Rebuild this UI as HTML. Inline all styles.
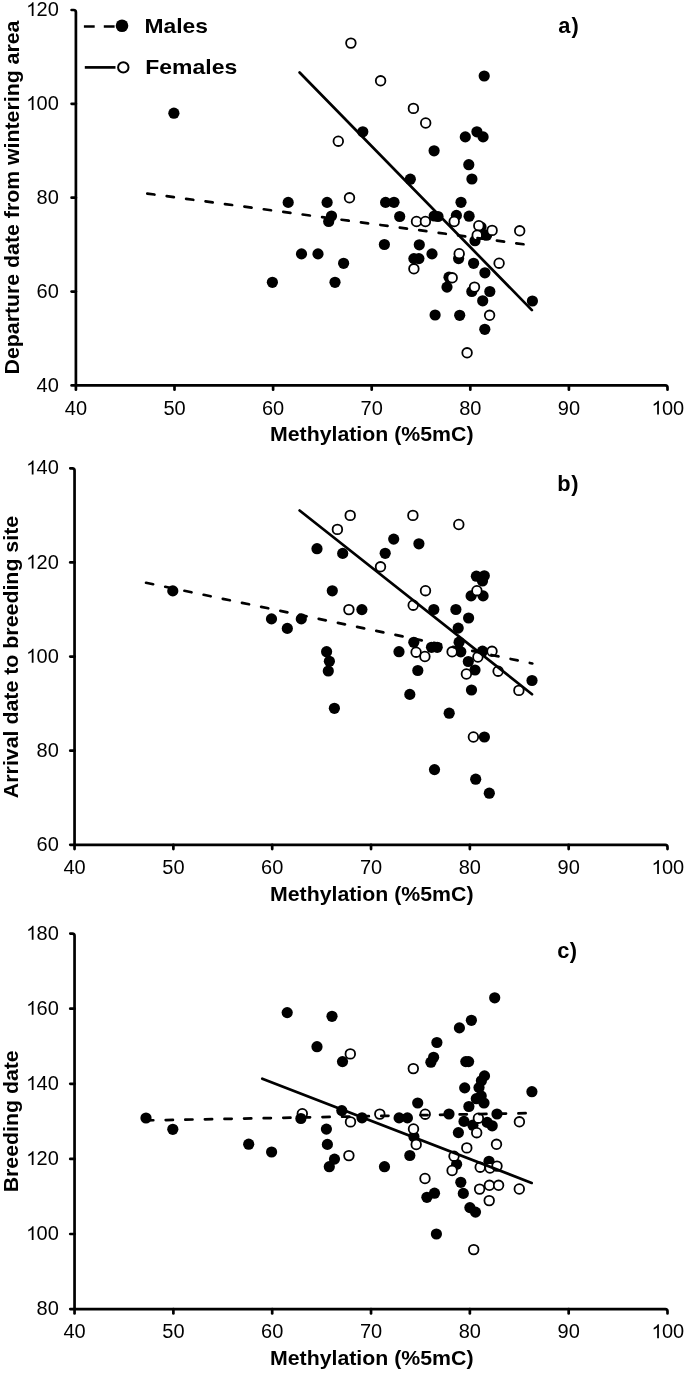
<!DOCTYPE html>
<html><head><meta charset="utf-8"><style>
html,body{margin:0;padding:0;background:#fff;width:685px;height:1373px;overflow:hidden}
svg{display:block;filter:grayscale(1)}
text{font-family:"Liberation Sans", sans-serif;fill:#000}
.tk{font-size:20px}
.tt{font-size:20.5px;font-weight:bold}
.lg{font-size:20.5px;font-weight:bold}
.pl{font-size:21.8px;font-weight:bold}
</style></head><body>
<svg width="685" height="1373" viewBox="0 0 685 1373">
<rect width="685" height="1373" fill="#fff"/>
<path d="M71.60 10.0H73.70Q75.9 10.0 75.9 12.20V385.4H665.30Q667.5 385.4 667.5 387.60V389.70" fill="none" stroke="#000" stroke-width="2.7" stroke-linejoin="round" stroke-linecap="round"/>
<path transform="translate(25.43,16.10) scale(0.009766,-0.009766)" d="M828 0H648V1098Q583 1038 477.5 979T288 890V1057Q439 1125 552 1221T712 1419H828Z"/><text x="36.55" y="16.10" class="tk">2</text><text x="47.68" y="16.10" class="tk">0</text>
<line x1="71.60" y1="103.85" x2="75.9" y2="103.85" stroke="#000" stroke-width="2.7" stroke-linecap="round"/>
<path transform="translate(25.43,109.95) scale(0.009766,-0.009766)" d="M828 0H648V1098Q583 1038 477.5 979T288 890V1057Q439 1125 552 1221T712 1419H828Z"/><text x="36.55" y="109.95" class="tk">0</text><text x="47.68" y="109.95" class="tk">0</text>
<line x1="71.60" y1="197.70" x2="75.9" y2="197.70" stroke="#000" stroke-width="2.7" stroke-linecap="round"/>
<text x="36.55" y="203.80" class="tk">8</text><text x="47.68" y="203.80" class="tk">0</text>
<line x1="71.60" y1="291.55" x2="75.9" y2="291.55" stroke="#000" stroke-width="2.7" stroke-linecap="round"/>
<text x="36.55" y="297.65" class="tk">6</text><text x="47.68" y="297.65" class="tk">0</text>
<line x1="71.60" y1="385.40" x2="75.9" y2="385.40" stroke="#000" stroke-width="2.7" stroke-linecap="round"/>
<text x="36.55" y="391.50" class="tk">4</text><text x="47.68" y="391.50" class="tk">0</text>
<line x1="75.90" y1="385.4" x2="75.90" y2="389.70" stroke="#000" stroke-width="2.7" stroke-linecap="round"/>
<text x="64.78" y="414.50" class="tk">4</text><text x="75.90" y="414.50" class="tk">0</text>
<line x1="174.50" y1="385.4" x2="174.50" y2="389.70" stroke="#000" stroke-width="2.7" stroke-linecap="round"/>
<text x="163.38" y="414.50" class="tk">5</text><text x="174.50" y="414.50" class="tk">0</text>
<line x1="273.10" y1="385.4" x2="273.10" y2="389.70" stroke="#000" stroke-width="2.7" stroke-linecap="round"/>
<text x="261.98" y="414.50" class="tk">6</text><text x="273.10" y="414.50" class="tk">0</text>
<line x1="371.70" y1="385.4" x2="371.70" y2="389.70" stroke="#000" stroke-width="2.7" stroke-linecap="round"/>
<text x="360.58" y="414.50" class="tk">7</text><text x="371.70" y="414.50" class="tk">0</text>
<line x1="470.30" y1="385.4" x2="470.30" y2="389.70" stroke="#000" stroke-width="2.7" stroke-linecap="round"/>
<text x="459.18" y="414.50" class="tk">8</text><text x="470.30" y="414.50" class="tk">0</text>
<line x1="568.90" y1="385.4" x2="568.90" y2="389.70" stroke="#000" stroke-width="2.7" stroke-linecap="round"/>
<text x="557.78" y="414.50" class="tk">9</text><text x="568.90" y="414.50" class="tk">0</text>
<path transform="translate(650.82,414.50) scale(0.009766,-0.009766)" d="M828 0H648V1098Q583 1038 477.5 979T288 890V1057Q439 1125 552 1221T712 1419H828Z"/><text x="661.94" y="414.50" class="tk">0</text><text x="673.06" y="414.50" class="tk">0</text>
<text x="270.0" y="441.20" class="tt" textLength="203.5" lengthAdjust="spacingAndGlyphs">Methylation (%5mC)</text>
<text transform="translate(19.3,374.45) rotate(-90)" x="0" y="0" class="tt" textLength="353.9" lengthAdjust="spacingAndGlyphs">Departure date from wintering area</text>
<path d="M70.25 468.3H72.35Q74.55 468.3 74.55 470.50V844.8H665.30Q667.5 844.8 667.5 847.00V849.10" fill="none" stroke="#000" stroke-width="2.7" stroke-linejoin="round" stroke-linecap="round"/>
<path transform="translate(25.43,474.40) scale(0.009766,-0.009766)" d="M828 0H648V1098Q583 1038 477.5 979T288 890V1057Q439 1125 552 1221T712 1419H828Z"/><text x="36.55" y="474.40" class="tk">4</text><text x="47.68" y="474.40" class="tk">0</text>
<line x1="70.25" y1="562.42" x2="74.55" y2="562.42" stroke="#000" stroke-width="2.7" stroke-linecap="round"/>
<path transform="translate(25.43,568.52) scale(0.009766,-0.009766)" d="M828 0H648V1098Q583 1038 477.5 979T288 890V1057Q439 1125 552 1221T712 1419H828Z"/><text x="36.55" y="568.52" class="tk">2</text><text x="47.68" y="568.52" class="tk">0</text>
<line x1="70.25" y1="656.55" x2="74.55" y2="656.55" stroke="#000" stroke-width="2.7" stroke-linecap="round"/>
<path transform="translate(25.43,662.65) scale(0.009766,-0.009766)" d="M828 0H648V1098Q583 1038 477.5 979T288 890V1057Q439 1125 552 1221T712 1419H828Z"/><text x="36.55" y="662.65" class="tk">0</text><text x="47.68" y="662.65" class="tk">0</text>
<line x1="70.25" y1="750.67" x2="74.55" y2="750.67" stroke="#000" stroke-width="2.7" stroke-linecap="round"/>
<text x="36.55" y="756.77" class="tk">8</text><text x="47.68" y="756.77" class="tk">0</text>
<line x1="70.25" y1="844.80" x2="74.55" y2="844.80" stroke="#000" stroke-width="2.7" stroke-linecap="round"/>
<text x="36.55" y="850.90" class="tk">6</text><text x="47.68" y="850.90" class="tk">0</text>
<line x1="74.55" y1="844.8" x2="74.55" y2="849.10" stroke="#000" stroke-width="2.7" stroke-linecap="round"/>
<text x="63.43" y="873.90" class="tk">4</text><text x="74.55" y="873.90" class="tk">0</text>
<line x1="173.38" y1="844.8" x2="173.38" y2="849.10" stroke="#000" stroke-width="2.7" stroke-linecap="round"/>
<text x="162.25" y="873.90" class="tk">5</text><text x="173.38" y="873.90" class="tk">0</text>
<line x1="272.20" y1="844.8" x2="272.20" y2="849.10" stroke="#000" stroke-width="2.7" stroke-linecap="round"/>
<text x="261.08" y="873.90" class="tk">6</text><text x="272.20" y="873.90" class="tk">0</text>
<line x1="371.03" y1="844.8" x2="371.03" y2="849.10" stroke="#000" stroke-width="2.7" stroke-linecap="round"/>
<text x="359.90" y="873.90" class="tk">7</text><text x="371.03" y="873.90" class="tk">0</text>
<line x1="469.85" y1="844.8" x2="469.85" y2="849.10" stroke="#000" stroke-width="2.7" stroke-linecap="round"/>
<text x="458.73" y="873.90" class="tk">8</text><text x="469.85" y="873.90" class="tk">0</text>
<line x1="568.67" y1="844.8" x2="568.67" y2="849.10" stroke="#000" stroke-width="2.7" stroke-linecap="round"/>
<text x="557.55" y="873.90" class="tk">9</text><text x="568.67" y="873.90" class="tk">0</text>
<path transform="translate(650.82,873.90) scale(0.009766,-0.009766)" d="M828 0H648V1098Q583 1038 477.5 979T288 890V1057Q439 1125 552 1221T712 1419H828Z"/><text x="661.94" y="873.90" class="tk">0</text><text x="673.06" y="873.90" class="tk">0</text>
<text x="270.0" y="900.60" class="tt" textLength="203.5" lengthAdjust="spacingAndGlyphs">Methylation (%5mC)</text>
<text transform="translate(18.2,798.15) rotate(-90)" x="0" y="0" class="tt" textLength="282.3" lengthAdjust="spacingAndGlyphs">Arrival date to breeding site</text>
<path d="M70.25 933.6H72.35Q74.55 933.6 74.55 935.80V1309.1H665.30Q667.5 1309.1 667.5 1311.30V1313.40" fill="none" stroke="#000" stroke-width="2.7" stroke-linejoin="round" stroke-linecap="round"/>
<path transform="translate(25.43,939.70) scale(0.009766,-0.009766)" d="M828 0H648V1098Q583 1038 477.5 979T288 890V1057Q439 1125 552 1221T712 1419H828Z"/><text x="36.55" y="939.70" class="tk">8</text><text x="47.68" y="939.70" class="tk">0</text>
<line x1="70.25" y1="1008.70" x2="74.55" y2="1008.70" stroke="#000" stroke-width="2.7" stroke-linecap="round"/>
<path transform="translate(25.43,1014.80) scale(0.009766,-0.009766)" d="M828 0H648V1098Q583 1038 477.5 979T288 890V1057Q439 1125 552 1221T712 1419H828Z"/><text x="36.55" y="1014.80" class="tk">6</text><text x="47.68" y="1014.80" class="tk">0</text>
<line x1="70.25" y1="1083.80" x2="74.55" y2="1083.80" stroke="#000" stroke-width="2.7" stroke-linecap="round"/>
<path transform="translate(25.43,1089.90) scale(0.009766,-0.009766)" d="M828 0H648V1098Q583 1038 477.5 979T288 890V1057Q439 1125 552 1221T712 1419H828Z"/><text x="36.55" y="1089.90" class="tk">4</text><text x="47.68" y="1089.90" class="tk">0</text>
<line x1="70.25" y1="1158.90" x2="74.55" y2="1158.90" stroke="#000" stroke-width="2.7" stroke-linecap="round"/>
<path transform="translate(25.43,1165.00) scale(0.009766,-0.009766)" d="M828 0H648V1098Q583 1038 477.5 979T288 890V1057Q439 1125 552 1221T712 1419H828Z"/><text x="36.55" y="1165.00" class="tk">2</text><text x="47.68" y="1165.00" class="tk">0</text>
<line x1="70.25" y1="1234.00" x2="74.55" y2="1234.00" stroke="#000" stroke-width="2.7" stroke-linecap="round"/>
<path transform="translate(25.43,1240.10) scale(0.009766,-0.009766)" d="M828 0H648V1098Q583 1038 477.5 979T288 890V1057Q439 1125 552 1221T712 1419H828Z"/><text x="36.55" y="1240.10" class="tk">0</text><text x="47.68" y="1240.10" class="tk">0</text>
<line x1="70.25" y1="1309.10" x2="74.55" y2="1309.10" stroke="#000" stroke-width="2.7" stroke-linecap="round"/>
<text x="36.55" y="1315.20" class="tk">8</text><text x="47.68" y="1315.20" class="tk">0</text>
<line x1="74.55" y1="1309.1" x2="74.55" y2="1313.40" stroke="#000" stroke-width="2.7" stroke-linecap="round"/>
<text x="63.43" y="1338.20" class="tk">4</text><text x="74.55" y="1338.20" class="tk">0</text>
<line x1="173.38" y1="1309.1" x2="173.38" y2="1313.40" stroke="#000" stroke-width="2.7" stroke-linecap="round"/>
<text x="162.25" y="1338.20" class="tk">5</text><text x="173.38" y="1338.20" class="tk">0</text>
<line x1="272.20" y1="1309.1" x2="272.20" y2="1313.40" stroke="#000" stroke-width="2.7" stroke-linecap="round"/>
<text x="261.08" y="1338.20" class="tk">6</text><text x="272.20" y="1338.20" class="tk">0</text>
<line x1="371.03" y1="1309.1" x2="371.03" y2="1313.40" stroke="#000" stroke-width="2.7" stroke-linecap="round"/>
<text x="359.90" y="1338.20" class="tk">7</text><text x="371.03" y="1338.20" class="tk">0</text>
<line x1="469.85" y1="1309.1" x2="469.85" y2="1313.40" stroke="#000" stroke-width="2.7" stroke-linecap="round"/>
<text x="458.73" y="1338.20" class="tk">8</text><text x="469.85" y="1338.20" class="tk">0</text>
<line x1="568.67" y1="1309.1" x2="568.67" y2="1313.40" stroke="#000" stroke-width="2.7" stroke-linecap="round"/>
<text x="557.55" y="1338.20" class="tk">9</text><text x="568.67" y="1338.20" class="tk">0</text>
<path transform="translate(650.82,1338.20) scale(0.009766,-0.009766)" d="M828 0H648V1098Q583 1038 477.5 979T288 890V1057Q439 1125 552 1221T712 1419H828Z"/><text x="661.94" y="1338.20" class="tk">0</text><text x="673.06" y="1338.20" class="tk">0</text>
<text x="270.0" y="1364.90" class="tt" textLength="203.5" lengthAdjust="spacingAndGlyphs">Methylation (%5mC)</text>
<text transform="translate(18.2,1192.30) rotate(-90)" x="0" y="0" class="tt" textLength="142.0" lengthAdjust="spacingAndGlyphs">Breeding date</text>
<circle cx="173.9" cy="113.2" r="5.6" fill="#000"/>
<circle cx="362.8" cy="131.8" r="5.6" fill="#000"/>
<circle cx="434.1" cy="150.8" r="5.6" fill="#000"/>
<circle cx="484.2" cy="76.0" r="5.6" fill="#000"/>
<circle cx="465.3" cy="136.9" r="5.6" fill="#000"/>
<circle cx="476.9" cy="131.8" r="5.6" fill="#000"/>
<circle cx="483.1" cy="136.9" r="5.6" fill="#000"/>
<circle cx="468.8" cy="164.7" r="5.6" fill="#000"/>
<circle cx="471.9" cy="179.0" r="5.6" fill="#000"/>
<circle cx="288.2" cy="202.4" r="5.6" fill="#000"/>
<circle cx="327.1" cy="202.4" r="5.6" fill="#000"/>
<circle cx="385.6" cy="202.4" r="5.6" fill="#000"/>
<circle cx="394.0" cy="202.3" r="5.6" fill="#000"/>
<circle cx="331.5" cy="216.0" r="5.6" fill="#000"/>
<circle cx="328.7" cy="221.5" r="5.6" fill="#000"/>
<circle cx="301.5" cy="253.9" r="5.6" fill="#000"/>
<circle cx="318.0" cy="253.9" r="5.6" fill="#000"/>
<circle cx="343.6" cy="263.3" r="5.6" fill="#000"/>
<circle cx="384.4" cy="244.5" r="5.6" fill="#000"/>
<circle cx="272.4" cy="282.3" r="5.6" fill="#000"/>
<circle cx="335.0" cy="282.3" r="5.6" fill="#000"/>
<circle cx="410.3" cy="179.2" r="5.6" fill="#000"/>
<circle cx="399.7" cy="216.5" r="5.6" fill="#000"/>
<circle cx="434.2" cy="216.0" r="5.6" fill="#000"/>
<circle cx="438.0" cy="216.5" r="5.6" fill="#000"/>
<circle cx="419.3" cy="244.8" r="5.6" fill="#000"/>
<circle cx="461.0" cy="202.3" r="5.6" fill="#000"/>
<circle cx="456.4" cy="215.4" r="5.6" fill="#000"/>
<circle cx="469.1" cy="216.2" r="5.6" fill="#000"/>
<circle cx="481.0" cy="227.0" r="5.6" fill="#000"/>
<circle cx="486.6" cy="235.2" r="5.6" fill="#000"/>
<circle cx="475.0" cy="240.7" r="5.6" fill="#000"/>
<circle cx="432.0" cy="253.9" r="5.6" fill="#000"/>
<circle cx="413.9" cy="258.6" r="5.6" fill="#000"/>
<circle cx="418.9" cy="258.6" r="5.6" fill="#000"/>
<circle cx="449.0" cy="277.2" r="5.6" fill="#000"/>
<circle cx="447.0" cy="287.1" r="5.6" fill="#000"/>
<circle cx="435.1" cy="315.0" r="5.6" fill="#000"/>
<circle cx="458.6" cy="258.6" r="5.6" fill="#000"/>
<circle cx="473.6" cy="263.3" r="5.6" fill="#000"/>
<circle cx="484.9" cy="272.8" r="5.6" fill="#000"/>
<circle cx="471.8" cy="291.5" r="5.6" fill="#000"/>
<circle cx="489.8" cy="291.5" r="5.6" fill="#000"/>
<circle cx="482.7" cy="300.8" r="5.6" fill="#000"/>
<circle cx="459.7" cy="315.3" r="5.6" fill="#000"/>
<circle cx="484.8" cy="329.3" r="5.6" fill="#000"/>
<circle cx="532.4" cy="301.0" r="5.6" fill="#000"/>
<circle cx="350.9" cy="43.1" r="4.8" fill="#fff" stroke="#000" stroke-width="1.8"/>
<circle cx="380.6" cy="80.8" r="4.8" fill="#fff" stroke="#000" stroke-width="1.8"/>
<circle cx="413.4" cy="108.4" r="4.8" fill="#fff" stroke="#000" stroke-width="1.8"/>
<circle cx="425.7" cy="123.0" r="4.8" fill="#fff" stroke="#000" stroke-width="1.8"/>
<circle cx="338.3" cy="141.2" r="4.8" fill="#fff" stroke="#000" stroke-width="1.8"/>
<circle cx="349.5" cy="197.8" r="4.8" fill="#fff" stroke="#000" stroke-width="1.8"/>
<circle cx="416.5" cy="221.5" r="4.8" fill="#fff" stroke="#000" stroke-width="1.8"/>
<circle cx="425.4" cy="221.5" r="4.8" fill="#fff" stroke="#000" stroke-width="1.8"/>
<circle cx="454.2" cy="221.5" r="4.8" fill="#fff" stroke="#000" stroke-width="1.8"/>
<circle cx="478.8" cy="225.7" r="4.8" fill="#fff" stroke="#000" stroke-width="1.8"/>
<circle cx="492.1" cy="230.4" r="4.8" fill="#fff" stroke="#000" stroke-width="1.8"/>
<circle cx="477.2" cy="235.2" r="4.8" fill="#fff" stroke="#000" stroke-width="1.8"/>
<circle cx="413.9" cy="268.8" r="4.8" fill="#fff" stroke="#000" stroke-width="1.8"/>
<circle cx="452.2" cy="277.8" r="4.8" fill="#fff" stroke="#000" stroke-width="1.8"/>
<circle cx="459.2" cy="253.7" r="4.8" fill="#fff" stroke="#000" stroke-width="1.8"/>
<circle cx="499.1" cy="263.2" r="4.8" fill="#fff" stroke="#000" stroke-width="1.8"/>
<circle cx="474.5" cy="287.1" r="4.8" fill="#fff" stroke="#000" stroke-width="1.8"/>
<circle cx="489.6" cy="315.3" r="4.8" fill="#fff" stroke="#000" stroke-width="1.8"/>
<circle cx="467.1" cy="352.8" r="4.8" fill="#fff" stroke="#000" stroke-width="1.8"/>
<circle cx="519.7" cy="230.8" r="4.8" fill="#fff" stroke="#000" stroke-width="1.8"/>
<circle cx="172.8" cy="590.9" r="5.6" fill="#000"/>
<circle cx="271.5" cy="618.9" r="5.6" fill="#000"/>
<circle cx="287.3" cy="628.4" r="5.6" fill="#000"/>
<circle cx="301.3" cy="618.9" r="5.6" fill="#000"/>
<circle cx="317.0" cy="548.7" r="5.6" fill="#000"/>
<circle cx="342.7" cy="553.4" r="5.6" fill="#000"/>
<circle cx="385.2" cy="553.3" r="5.6" fill="#000"/>
<circle cx="393.7" cy="539.1" r="5.6" fill="#000"/>
<circle cx="332.3" cy="590.8" r="5.6" fill="#000"/>
<circle cx="361.9" cy="609.6" r="5.6" fill="#000"/>
<circle cx="326.6" cy="651.7" r="5.6" fill="#000"/>
<circle cx="329.4" cy="661.3" r="5.6" fill="#000"/>
<circle cx="328.3" cy="671.0" r="5.6" fill="#000"/>
<circle cx="334.4" cy="708.3" r="5.6" fill="#000"/>
<circle cx="418.9" cy="543.8" r="5.6" fill="#000"/>
<circle cx="433.8" cy="609.5" r="5.6" fill="#000"/>
<circle cx="455.9" cy="609.5" r="5.6" fill="#000"/>
<circle cx="468.6" cy="618.0" r="5.6" fill="#000"/>
<circle cx="476.4" cy="576.2" r="5.6" fill="#000"/>
<circle cx="484.3" cy="575.8" r="5.6" fill="#000"/>
<circle cx="482.5" cy="581.0" r="5.6" fill="#000"/>
<circle cx="471.1" cy="595.9" r="5.6" fill="#000"/>
<circle cx="483.1" cy="595.9" r="5.6" fill="#000"/>
<circle cx="413.8" cy="642.3" r="5.6" fill="#000"/>
<circle cx="399.0" cy="651.7" r="5.6" fill="#000"/>
<circle cx="431.5" cy="647.3" r="5.6" fill="#000"/>
<circle cx="437.2" cy="647.3" r="5.6" fill="#000"/>
<circle cx="417.8" cy="670.5" r="5.6" fill="#000"/>
<circle cx="458.2" cy="628.1" r="5.6" fill="#000"/>
<circle cx="459.1" cy="642.2" r="5.6" fill="#000"/>
<circle cx="460.8" cy="651.8" r="5.6" fill="#000"/>
<circle cx="468.3" cy="661.5" r="5.6" fill="#000"/>
<circle cx="482.5" cy="651.2" r="5.6" fill="#000"/>
<circle cx="475.0" cy="670.0" r="5.6" fill="#000"/>
<circle cx="471.5" cy="690.0" r="5.6" fill="#000"/>
<circle cx="532.0" cy="680.5" r="5.6" fill="#000"/>
<circle cx="409.8" cy="694.4" r="5.6" fill="#000"/>
<circle cx="449.2" cy="713.2" r="5.6" fill="#000"/>
<circle cx="484.4" cy="737.0" r="5.6" fill="#000"/>
<circle cx="434.5" cy="769.6" r="5.6" fill="#000"/>
<circle cx="475.7" cy="779.2" r="5.6" fill="#000"/>
<circle cx="489.3" cy="793.2" r="5.6" fill="#000"/>
<circle cx="350.2" cy="515.4" r="4.8" fill="#fff" stroke="#000" stroke-width="1.8"/>
<circle cx="337.4" cy="529.4" r="4.8" fill="#fff" stroke="#000" stroke-width="1.8"/>
<circle cx="380.5" cy="566.8" r="4.8" fill="#fff" stroke="#000" stroke-width="1.8"/>
<circle cx="348.9" cy="609.6" r="4.8" fill="#fff" stroke="#000" stroke-width="1.8"/>
<circle cx="412.9" cy="515.4" r="4.8" fill="#fff" stroke="#000" stroke-width="1.8"/>
<circle cx="458.8" cy="524.5" r="4.8" fill="#fff" stroke="#000" stroke-width="1.8"/>
<circle cx="425.5" cy="590.7" r="4.8" fill="#fff" stroke="#000" stroke-width="1.8"/>
<circle cx="413.2" cy="605.2" r="4.8" fill="#fff" stroke="#000" stroke-width="1.8"/>
<circle cx="476.9" cy="590.7" r="4.8" fill="#fff" stroke="#000" stroke-width="1.8"/>
<circle cx="416.1" cy="652.2" r="4.8" fill="#fff" stroke="#000" stroke-width="1.8"/>
<circle cx="424.9" cy="656.5" r="4.8" fill="#fff" stroke="#000" stroke-width="1.8"/>
<circle cx="452.1" cy="651.8" r="4.8" fill="#fff" stroke="#000" stroke-width="1.8"/>
<circle cx="477.9" cy="657.0" r="4.8" fill="#fff" stroke="#000" stroke-width="1.8"/>
<circle cx="492.0" cy="651.3" r="4.8" fill="#fff" stroke="#000" stroke-width="1.8"/>
<circle cx="466.4" cy="674.0" r="4.8" fill="#fff" stroke="#000" stroke-width="1.8"/>
<circle cx="498.1" cy="671.2" r="4.8" fill="#fff" stroke="#000" stroke-width="1.8"/>
<circle cx="518.9" cy="690.4" r="4.8" fill="#fff" stroke="#000" stroke-width="1.8"/>
<circle cx="473.4" cy="737.0" r="4.8" fill="#fff" stroke="#000" stroke-width="1.8"/>
<circle cx="146.0" cy="1118.0" r="5.6" fill="#000"/>
<circle cx="172.8" cy="1129.3" r="5.6" fill="#000"/>
<circle cx="248.7" cy="1144.2" r="5.6" fill="#000"/>
<circle cx="271.6" cy="1152.0" r="5.6" fill="#000"/>
<circle cx="287.2" cy="1012.6" r="5.6" fill="#000"/>
<circle cx="332.0" cy="1016.3" r="5.6" fill="#000"/>
<circle cx="317.0" cy="1046.7" r="5.6" fill="#000"/>
<circle cx="342.5" cy="1061.6" r="5.6" fill="#000"/>
<circle cx="326.4" cy="1129.1" r="5.6" fill="#000"/>
<circle cx="327.4" cy="1144.4" r="5.6" fill="#000"/>
<circle cx="334.5" cy="1159.1" r="5.6" fill="#000"/>
<circle cx="329.3" cy="1166.7" r="5.6" fill="#000"/>
<circle cx="341.8" cy="1110.6" r="5.6" fill="#000"/>
<circle cx="362.0" cy="1117.8" r="5.6" fill="#000"/>
<circle cx="384.5" cy="1166.7" r="5.6" fill="#000"/>
<circle cx="399.1" cy="1117.9" r="5.6" fill="#000"/>
<circle cx="407.4" cy="1117.9" r="5.6" fill="#000"/>
<circle cx="417.7" cy="1103.0" r="5.6" fill="#000"/>
<circle cx="413.9" cy="1136.8" r="5.6" fill="#000"/>
<circle cx="409.8" cy="1155.5" r="5.6" fill="#000"/>
<circle cx="434.5" cy="1193.2" r="5.6" fill="#000"/>
<circle cx="426.9" cy="1197.3" r="5.6" fill="#000"/>
<circle cx="436.4" cy="1234.0" r="5.6" fill="#000"/>
<circle cx="471.4" cy="1020.3" r="5.6" fill="#000"/>
<circle cx="459.4" cy="1027.9" r="5.6" fill="#000"/>
<circle cx="436.9" cy="1042.5" r="5.6" fill="#000"/>
<circle cx="433.6" cy="1057.3" r="5.6" fill="#000"/>
<circle cx="430.9" cy="1062.2" r="5.6" fill="#000"/>
<circle cx="465.8" cy="1061.6" r="5.6" fill="#000"/>
<circle cx="468.6" cy="1061.6" r="5.6" fill="#000"/>
<circle cx="484.5" cy="1075.9" r="5.6" fill="#000"/>
<circle cx="481.4" cy="1080.8" r="5.6" fill="#000"/>
<circle cx="479.0" cy="1087.6" r="5.6" fill="#000"/>
<circle cx="464.7" cy="1087.9" r="5.6" fill="#000"/>
<circle cx="481.2" cy="1095.9" r="5.6" fill="#000"/>
<circle cx="476.3" cy="1098.7" r="5.6" fill="#000"/>
<circle cx="484.0" cy="1103.0" r="5.6" fill="#000"/>
<circle cx="468.9" cy="1106.5" r="5.6" fill="#000"/>
<circle cx="449.0" cy="1114.0" r="5.6" fill="#000"/>
<circle cx="497.0" cy="1114.0" r="5.6" fill="#000"/>
<circle cx="464.0" cy="1121.4" r="5.6" fill="#000"/>
<circle cx="472.9" cy="1125.2" r="5.6" fill="#000"/>
<circle cx="487.2" cy="1122.4" r="5.6" fill="#000"/>
<circle cx="492.2" cy="1125.8" r="5.6" fill="#000"/>
<circle cx="458.4" cy="1132.6" r="5.6" fill="#000"/>
<circle cx="456.6" cy="1164.3" r="5.6" fill="#000"/>
<circle cx="489.0" cy="1161.3" r="5.6" fill="#000"/>
<circle cx="460.8" cy="1182.3" r="5.6" fill="#000"/>
<circle cx="463.3" cy="1193.4" r="5.6" fill="#000"/>
<circle cx="469.9" cy="1207.6" r="5.6" fill="#000"/>
<circle cx="475.5" cy="1212.1" r="5.6" fill="#000"/>
<circle cx="494.7" cy="997.8" r="5.6" fill="#000"/>
<circle cx="531.9" cy="1091.7" r="5.6" fill="#000"/>
<circle cx="302.3" cy="1113.7" r="4.8" fill="#fff" stroke="#000" stroke-width="1.8"/>
<circle cx="350.3" cy="1053.9" r="4.8" fill="#fff" stroke="#000" stroke-width="1.8"/>
<circle cx="413.3" cy="1068.6" r="4.8" fill="#fff" stroke="#000" stroke-width="1.8"/>
<circle cx="350.5" cy="1121.9" r="4.8" fill="#fff" stroke="#000" stroke-width="1.8"/>
<circle cx="379.8" cy="1114.1" r="4.8" fill="#fff" stroke="#000" stroke-width="1.8"/>
<circle cx="425.2" cy="1114.2" r="4.8" fill="#fff" stroke="#000" stroke-width="1.8"/>
<circle cx="413.5" cy="1129.0" r="4.8" fill="#fff" stroke="#000" stroke-width="1.8"/>
<circle cx="416.2" cy="1144.5" r="4.8" fill="#fff" stroke="#000" stroke-width="1.8"/>
<circle cx="348.9" cy="1155.6" r="4.8" fill="#fff" stroke="#000" stroke-width="1.8"/>
<circle cx="425.0" cy="1178.5" r="4.8" fill="#fff" stroke="#000" stroke-width="1.8"/>
<circle cx="454.0" cy="1156.2" r="4.8" fill="#fff" stroke="#000" stroke-width="1.8"/>
<circle cx="452.1" cy="1170.5" r="4.8" fill="#fff" stroke="#000" stroke-width="1.8"/>
<circle cx="478.4" cy="1118.2" r="4.8" fill="#fff" stroke="#000" stroke-width="1.8"/>
<circle cx="476.7" cy="1132.7" r="4.8" fill="#fff" stroke="#000" stroke-width="1.8"/>
<circle cx="466.8" cy="1147.9" r="4.8" fill="#fff" stroke="#000" stroke-width="1.8"/>
<circle cx="496.5" cy="1144.3" r="4.8" fill="#fff" stroke="#000" stroke-width="1.8"/>
<circle cx="480.2" cy="1167.2" r="4.8" fill="#fff" stroke="#000" stroke-width="1.8"/>
<circle cx="490.0" cy="1168.0" r="4.8" fill="#fff" stroke="#000" stroke-width="1.8"/>
<circle cx="497.0" cy="1166.1" r="4.8" fill="#fff" stroke="#000" stroke-width="1.8"/>
<circle cx="519.4" cy="1121.8" r="4.8" fill="#fff" stroke="#000" stroke-width="1.8"/>
<circle cx="479.6" cy="1189.1" r="4.8" fill="#fff" stroke="#000" stroke-width="1.8"/>
<circle cx="489.4" cy="1185.3" r="4.8" fill="#fff" stroke="#000" stroke-width="1.8"/>
<circle cx="498.6" cy="1185.3" r="4.8" fill="#fff" stroke="#000" stroke-width="1.8"/>
<circle cx="489.2" cy="1200.6" r="4.8" fill="#fff" stroke="#000" stroke-width="1.8"/>
<circle cx="519.3" cy="1189.0" r="4.8" fill="#fff" stroke="#000" stroke-width="1.8"/>
<circle cx="473.7" cy="1249.6" r="4.8" fill="#fff" stroke="#000" stroke-width="1.8"/>
<circle cx="300.9" cy="1118.5" r="5.6" fill="#000"/>
<line x1="146.0" y1="193.4" x2="532.0" y2="245.4" stroke="#000" stroke-width="2.7" stroke-dasharray="7.2 12.4" stroke-dashoffset="-1.3" stroke-linecap="round"/>
<line x1="299.6" y1="72.5" x2="531.9" y2="310.1" stroke="#000" stroke-width="2.7" stroke-linecap="round"/>
<line x1="144.8" y1="582.5" x2="532.3" y2="663.5" stroke="#000" stroke-width="2.7" stroke-dasharray="7.2 12.4" stroke-dashoffset="-1.3" stroke-linecap="round"/>
<line x1="299.6" y1="510.5" x2="532.0" y2="694.2" stroke="#000" stroke-width="2.7" stroke-linecap="round"/>
<line x1="146.0" y1="1120.4" x2="526.4" y2="1113.2" stroke="#000" stroke-width="2.7" stroke-dasharray="7.2 12.4" stroke-dashoffset="-0.1" stroke-linecap="round"/>
<line x1="262.3" y1="1078.7" x2="531.7" y2="1182.9" stroke="#000" stroke-width="2.7" stroke-linecap="round"/>
<line x1="83.9" y1="26.5" x2="117" y2="26.5" stroke="#000" stroke-width="2.7" stroke-dasharray="10.8 9.1"/>
<circle cx="122.0" cy="25.8" r="6.3" fill="#000"/>
<line x1="84.8" y1="67.4" x2="115.5" y2="67.4" stroke="#000" stroke-width="2.7"/>
<circle cx="123.3" cy="67.4" r="5.2" fill="#fff" stroke="#000" stroke-width="2.0"/>
<text x="144.5" y="33.0" class="lg" textLength="63.5" lengthAdjust="spacingAndGlyphs">Males</text>
<text x="145.3" y="74.0" class="lg" textLength="92.0" lengthAdjust="spacingAndGlyphs">Females</text>
<text x="558.3" y="33.4" class="pl" textLength="20.5">a)</text>
<text x="557.3" y="491.0" class="pl" textLength="21.3">b)</text>
<text x="557.3" y="958.4" class="pl" textLength="19.6">c)</text>
</svg>
</body></html>
